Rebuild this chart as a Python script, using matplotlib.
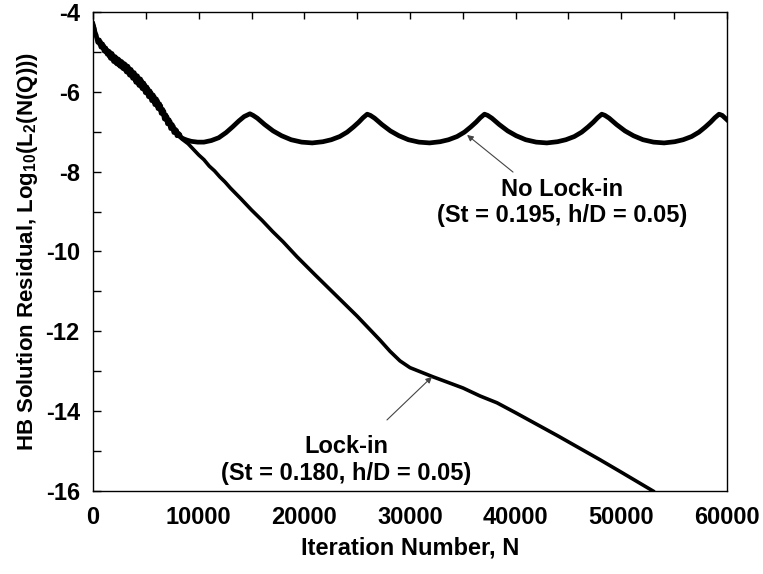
import matplotlib
matplotlib.use('Agg')
import matplotlib.pyplot as plt
from matplotlib.ticker import MultipleLocator

plt.rcParams['font.family'] = ['Liberation Sans', 'DejaVu Sans']
plt.rcParams['font.weight'] = 'bold'
plt.rcParams['axes.unicode_minus'] = False
plt.rcParams['mathtext.fontset'] = 'custom'
plt.rcParams['mathtext.rm'] = 'Liberation Sans:bold'
plt.rcParams['mathtext.bf'] = 'Liberation Sans:bold'
plt.rcParams['mathtext.default'] = 'bf'

# lock-in case (St = 0.180) : iteration vs log10 residual
lock_n = [0, 100, 200, 300, 450, 600, 750, 900, 1050, 1200, 1350, 1500, 1650, 1800,
          1950, 2100, 2250, 2400, 2550, 2700, 2850, 3000, 3150, 3300, 3450, 3600,
          3750, 3900, 4050, 4200, 4350, 4500, 4650, 4800, 4950, 5100, 5250, 5400,
          5550, 5700, 5850, 6000, 6150, 6300, 6450, 6600, 6750, 6900, 7050, 7200,
          7350, 7500, 7650, 7800, 7950, 8100, 8250, 8400, 8600, 9000, 9500, 10000,
          10500, 11000, 11500, 12000, 12500, 13000, 14000, 15000, 16000, 17000,
          18000, 19300, 21000, 23000, 25000, 27160, 28110, 29050, 30000, 31230,
          32180, 33500, 35020, 36630, 38230, 40000, 42000, 44000, 46000, 48000,
          50000, 53000]
lock_res = [-4.30, -4.36, -4.48, -4.62, -4.70, -4.82, -4.74, -4.92, -4.84, -5.02, -4.94,
            -5.12, -5.00, -5.20, -5.08, -5.28, -5.14, -5.34, -5.20, -5.40, -5.26,
            -5.46, -5.32, -5.54, -5.40, -5.62, -5.48, -5.70, -5.56, -5.80, -5.64,
            -5.88, -5.72, -5.96, -5.82, -6.06, -5.92, -6.16, -6.02, -6.26, -6.12,
            -6.36, -6.22, -6.46, -6.34, -6.58, -6.48, -6.72, -6.62, -6.84, -6.74,
            -6.94, -6.86, -7.04, -6.96, -7.12, -7.06, -7.18, -7.22, -7.30, -7.44,
            -7.58, -7.70, -7.86, -7.98, -8.13, -8.26, -8.41, -8.68, -8.96, -9.22,
            -9.50, -9.76, -10.13, -10.58, -11.10, -11.62, -12.22, -12.50, -12.74,
            -12.91, -13.04, -13.14, -13.27, -13.42, -13.62, -13.79, -14.04, -14.33,
            -14.62, -14.92, -15.22, -15.53, -16.00]

# no lock-in case (St = 0.195)
nolock_n = [0, 100, 200, 300, 450, 600, 750, 900, 1050, 1200, 1350, 1500, 1650, 1800,
            1950, 2100, 2250, 2400, 2550, 2700, 2850, 3000, 3150, 3300, 3450, 3600,
            3750, 3900, 4050, 4200, 4350, 4500, 4650, 4800, 4950, 5100, 5250, 5400,
            5550, 5700, 5850, 6000, 6150, 6300, 6450, 6600, 6750, 6900, 7050, 7200,
            7350, 7500, 7650, 7800, 7950, 8100, 8300, 8600, 8900, 9300, 9900, 10500,
            11200, 11900, 12600, 13200, 13800, 14300, 14850,
            15150, 15550, 16250, 17050, 17850, 18750, 19750, 20750, 21750, 22550,
            23350, 24050, 24650, 25150, 25550, 25950,
            26250, 26650, 27350, 28150, 28950, 29850, 30850, 31850, 32850, 33650,
            34450, 35150, 35750, 36250, 36650, 37050,
            37350, 37750, 38450, 39250, 40050, 40950, 41950, 42950, 43950, 44750,
            45550, 46250, 46850, 47350, 47750, 48150,
            48450, 48850, 49550, 50350, 51150, 52050, 53050, 54050, 55050, 55850,
            56650, 57350, 57950, 58450, 58850, 59250,
            59550, 60000]
nolock_res = [-4.30, -4.40, -4.52, -4.58, -4.76, -4.70, -4.88, -4.80, -4.98, -4.90,
              -5.06, -4.98, -5.16, -5.04, -5.24, -5.12, -5.30, -5.18, -5.36, -5.24,
              -5.42, -5.30, -5.50, -5.36, -5.58, -5.44, -5.66, -5.52, -5.76, -5.60,
              -5.84, -5.68, -5.92, -5.78, -6.02, -5.88, -6.12, -5.98, -6.22, -6.08,
              -6.32, -6.18, -6.42, -6.30, -6.54, -6.44, -6.68, -6.58, -6.80, -6.70,
              -6.92, -6.82, -7.02, -6.94, -7.10, -7.04, -7.14, -7.18, -7.21, -7.24,
              -7.26, -7.26, -7.22, -7.15, -7.02, -6.88, -6.73, -6.62, -6.55,
              -6.59, -6.66, -6.82, -6.98, -7.10, -7.20, -7.26, -7.28, -7.25, -7.20,
              -7.12, -7.01, -6.88, -6.76, -6.65, -6.56,
              -6.59, -6.66, -6.82, -6.98, -7.10, -7.20, -7.26, -7.28, -7.25, -7.20,
              -7.12, -7.01, -6.88, -6.76, -6.65, -6.56,
              -6.59, -6.66, -6.82, -6.98, -7.10, -7.20, -7.26, -7.28, -7.25, -7.20,
              -7.12, -7.01, -6.88, -6.76, -6.65, -6.56,
              -6.59, -6.66, -6.82, -6.98, -7.10, -7.20, -7.26, -7.28, -7.25, -7.20,
              -7.12, -7.01, -6.88, -6.76, -6.65, -6.56,
              -6.59, -6.70]

fig = plt.figure(figsize=(7.63, 5.74), dpi=100)
ax = fig.add_axes([0.1219, 0.1446, 0.8309, 0.8345])

ax.plot(nolock_n, nolock_res, color='black', lw=3.4, solid_joinstyle='round')
ax.plot(lock_n, lock_res, color='black', lw=2.6, solid_joinstyle='round')

ax.set_xlim(0, 60000)
ax.set_ylim(-16, -4)
ax.xaxis.set_major_locator(MultipleLocator(10000))
ax.xaxis.set_minor_locator(MultipleLocator(5000))
ax.yaxis.set_major_locator(MultipleLocator(2))
ax.yaxis.set_minor_locator(MultipleLocator(1))
ax.tick_params(axis='x', which='both', direction='in', bottom=False, top=True,
               labelbottom=True, length=5, width=1, pad=11, labelsize=17)
ax.tick_params(axis='y', which='both', direction='in', left=True, right=False,
               length=6, width=1, pad=9.5, labelsize=17)
for lbl in ax.get_xticklabels() + ax.get_yticklabels():
    lbl.set_fontweight('bold')
for s in ax.spines.values():
    s.set_linewidth(1.0)

ax.set_xlabel('Iteration Number, N', fontsize=17, fontweight='bold', labelpad=5)
ax.set_ylabel('HB Solution Residual, Log$_{10}$(L$_2$(N(Q)))', fontsize=16,
              fontweight='bold', labelpad=4)

arrow = dict(arrowstyle='-|>', color='#444444', lw=0.8, mutation_scale=9,
             shrinkA=0, shrinkB=0)
ax.annotate('', xy=(35400, -7.08), xytext=(39750, -8.01), arrowprops=arrow)
ax.annotate('', xy=(32080, -13.14), xytext=(27820, -14.22), arrowprops=arrow)

ax.text(44400, -8.77, 'No Lock-in\n(St = 0.195, h/D = 0.05)', ha='center',
        va='center', fontsize=17, fontweight='bold', linespacing=1.15)
ax.text(23950, -15.22, 'Lock-in\n(St = 0.180, h/D = 0.05)', ha='center',
        va='center', fontsize=17, fontweight='bold', linespacing=1.2)

fig.savefig('out.png', dpi=100)
